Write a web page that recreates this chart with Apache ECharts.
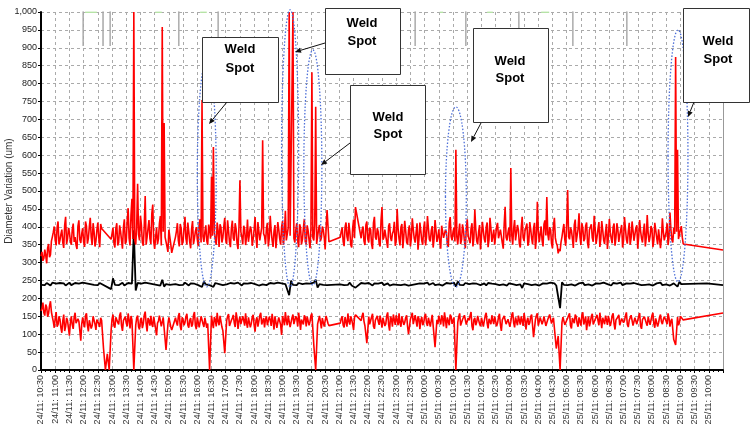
<!DOCTYPE html>
<html><head><meta charset="utf-8">
<script src="https://cdn.jsdelivr.net/npm/echarts@6/dist/echarts.min.js"></script>
<style>html,body{margin:0;padding:0;background:#fff}#c{width:751px;height:429px}</style>
</head><body><div id="c"></div>
<script>
// samples every STEP_MIN minutes from 24/11 10:30; the *Mid arrays hold the readings half a step later
const STEP_MIN = 4;

const upperRed = [
 318,305,336,298,352,322,372,401,348,415,
 362,392,341,428,366,384,350,409,371,338,
 418,355,396,344,402,368,425,349,388,360,
 412,343,395,null,null,null,null,365,398,342,
 410,356,387,339,421,360,452,348,478,1000,
 350,520,362,405,347,486,371,419,352,462,
 338,398,366,430,958,690,372,330,395,327,
 null,372,410,345,395,360,428,351,387,340,
 416,368,399,346,421,754,358,404,350,392,
 540,623,365,412,344,398,370,425,352,389,
 343,417,361,394,338,530,372,403,349,420,
 355,391,366,427,341,408,359,642,374,396,
 345,431,362,388,340,413,367,400,350,445,
 361,1000,372,1000,356,410,343,398,365,422,
 351,389,340,832,362,735,348,405,369,392,
 337,447,358,null,null,null,null,null,371,398,
 346,412,360,387,342,420,455,null,null,368,
 401,349,415,356,392,338,428,364,386,345,
 455,370,397,341,410,360,388,347,450,366,
 399,340,417,357,391,345,424,368,384,336,
 412,361,396,348,430,365,389,342,419,358,
 393,339,408,366,385,344,427,362,398,615,
 351,409,364,390,340,421,369,395,345,448,
 360,386,337,414,365,399,343,425,358,392,
 346,411,370,387,339,456,362,398,564,350,
 419,367,391,342,428,360,385,347,413,368,
 396,338,470,357,401,345,418,483,362,392,
 340,425,355,326,332,372,408,347,503,365,
 390,341,420,360,438,349,397,366,412,340,
 388,369,431,352,394,344,416,363,385,338,
 422,367,399,347,410,358,391,342,427,365,
 387,350,415,361,396,339,419,368,389,345,
 433,357,402,343,411,370,393,340,424,362,
 386,349,440,364,397,874,615,368,402,352
];
const upperRedMid = [
 330,312,320,341,315,360,385,362,398,351,
 379,356,405,352,397,361,392,358,349,402,
 364,381,358,415,353,399,372,410,345,391,
 370,408,null,null,null,null,null,381,355,395,
 348,404,363,398,352,417,368,433,366,362,
 398,378,431,356,402,350,396,367,437,359,
 371,352,409,348,386,371,345,392,352,null,
 null,388,362,408,349,396,367,412,358,394,
 352,387,365,409,356,373,385,361,406,367,
 375,384,350,389,407,356,401,364,418,357,
 396,368,410,353,399,386,351,394,372,358,
 401,347,392,371,413,362,398,381,352,411,
 369,389,344,405,371,392,350,416,384,362,
 398,375,380,368,391,362,407,351,396,358,
 404,363,397,370,408,352,393,360,401,371,
 395,402,null,null,null,null,null,null,387,359,
 399,373,411,350,396,368,null,null,null,392,
 360,405,366,398,352,411,371,396,353,419,
 364,392,357,402,370,381,414,361,395,348,
 408,372,389,351,404,369,393,356,410,365,
 388,350,415,372,396,359,402,367,390,371,
 357,403,369,392,350,411,373,386,359,372,
 384,352,407,361,396,374,354,410,368,393,
 351,405,372,389,356,412,365,395,374,350,
 401,368,392,355,408,371,384,359,377,396,
 362,405,352,398,370,389,409,358,393,351,
 411,366,390,379,363,407,376,380,399,353,
 402,369,348,338,357,391,364,410,372,398,
 367,405,357,394,372,410,360,403,355,392,
 407,358,396,371,413,366,391,352,408,371,
 385,354,409,370,392,377,405,361,396,353,
 411,369,390,359,404,373,388,356,409,370,
 382,373,394,362,407,351,398,369,386,357,
 410,371,393,356,380,386,366,392,371,null
];
const upperRedTail = [[1440, 335]];

const middleBlack = [
 238,242,237,243,240,236,244,239,241,237,
 243,238,242,236,241,244,237,240,243,238,
 241,236,244,239,242,237,240,243,238,241,
 237,243,240,null,null,null,null,226,256,238,
 242,237,241,244,236,240,243,238,241,390,
 222,243,238,241,236,244,239,242,237,240,
 243,238,241,236,252,233,240,243,238,241,
 null,240,243,237,241,238,244,239,236,242,
 238,241,244,237,240,232,247,239,242,237,
 241,232,243,238,240,244,237,241,239,236,
 243,238,241,237,244,240,236,242,239,241,
 237,243,238,240,244,236,241,239,242,237,
 240,243,238,241,236,244,239,242,237,240,
 243,209,250,238,241,237,243,239,240,236,
 242,238,241,237,244,252,230,240,243,238,
 241,237,240,null,null,null,null,null,239,242,
 237,241,238,244,236,240,230,null,null,243,
 238,241,237,243,240,236,242,239,241,238,
 244,237,240,242,236,241,239,243,238,240,
 237,242,239,244,236,241,238,243,240,237,
 242,239,241,236,244,238,240,243,237,241,
 239,242,236,240,243,238,241,237,244,233,
 247,238,241,237,243,239,240,236,242,238,
 241,244,237,240,242,236,243,239,241,238,
 240,243,237,241,239,244,236,242,238,240,
 243,237,241,239,229,242,238,240,244,237,
 241,239,243,236,240,242,238,241,237,244,
 239,242,236,240,173,245,238,242,237,241,
 239,243,236,240,242,238,244,237,241,239,
 243,236,240,242,238,241,237,244,239,240,
 242,236,243,238,241,239,244,237,240,242,
 238,241,236,243,239,240,244,237,242,238,
 241,239,243,236,240,242,238,244,237,241,
 239,243,236,240,242,238,233,246,240,241
];
const blackTail = [[1406, 242], [1407, 237], [1440, 237]];

const lowerRed = [
 165,188,152,176,158,192,148,118,162,127,
 142,104,155,121,138,96,150,115,160,126,
 136,82,147,119,158,108,141,124,153,112,
 145,120,138,60,0,45,0,110,155,118,
 149,127,161,109,143,131,158,116,140,0,
 125,152,113,146,129,163,108,139,151,120,
 144,97,137,155,118,142,56,128,150,112,
 null,146,124,159,111,140,133,157,118,145,
 127,162,114,148,135,155,120,143,130,0,
 152,117,141,160,125,146,110,47,138,156,
 121,145,132,161,115,149,127,139,158,118,
 143,130,154,107,147,124,160,136,119,150,
 128,141,157,113,146,133,152,98,140,162,
 125,148,117,155,131,144,160,112,139,153,
 122,147,135,158,70,0,128,151,116,143,
 137,156,124,null,null,null,null,null,131,150,
 119,145,158,127,141,112,154,null,null,138,
 160,123,75,149,132,157,115,144,136,152,
 118,147,129,161,110,143,155,126,139,158,
 121,146,133,153,100,142,160,125,137,150,
 114,148,131,157,123,145,138,159,64,140,
 152,127,144,161,117,136,155,129,147,0,
 133,158,120,143,151,126,139,162,111,146,
 134,155,122,148,137,160,116,142,153,128,
 145,131,157,109,140,150,124,147,135,161,
 119,144,152,127,138,159,113,146,132,155,
 92,141,158,125,149,136,153,118,143,160,
 128,147,60,95,0,133,150,121,145,158,
 116,142,155,130,147,124,161,137,111,149,
 134,157,122,145,139,160,117,143,152,126,
 148,135,158,113,141,154,129,146,138,161,
 120,144,156,127,150,133,159,115,142,153,
 124,147,139,160,118,145,132,155,128,149,
 136,158,121,143,85,70,148,132,155,140
];
const lowerRedMid = [
 171,160,183,149,180,162,135,144,121,150,
 118,137,109,146,117,132,127,147,131,143,
 110,128,131,152,125,139,116,150,128,141,
 129,146,null,null,null,null,null,142,124,147,
 133,152,124,138,149,122,140,151,null,null,
 146,121,140,117,153,130,145,124,128,149,
 115,131,152,122,147,null,null,147,121,null,
 null,133,150,122,147,125,149,126,139,121,
 153,124,147,119,150,129,146,118,null,null,
 131,148,122,136,151,120,null,null,150,123,
 139,154,120,144,137,128,150,124,131,147,
 119,148,126,139,121,152,127,145,142,125,
 149,123,137,150,118,147,126,151,125,138,
 152,120,146,128,150,122,139,141,127,146,
 149,125,152,null,null,null,null,134,145,121,
 151,130,null,null,null,null,null,null,144,125,
 148,121,136,150,128,147,null,null,null,151,
 136,null,null,128,148,122,139,151,126,137,
 146,123,152,127,149,121,140,153,125,131,
 150,126,146,122,null,null,128,153,121,144,
 139,125,150,131,146,121,154,null,null,128,
 138,153,122,140,147,125,149,138,null,null,
 149,124,141,153,127,145,152,123,140,125,
 151,129,146,121,152,131,143,128,139,150,
 122,148,126,140,151,128,142,121,154,132,
 147,125,139,150,123,141,137,126,149,null,
 null,152,124,147,128,150,123,141,155,130,
 146,null,null,null,null,148,126,139,152,124,
 145,131,149,121,142,153,127,150,134,122,
 150,127,141,154,125,139,146,128,140,151,
 123,152,129,140,148,125,144,132,151,127,
 139,153,124,146,128,150,122,141,149,131,
 148,126,152,129,144,121,147,135,141,153,
 128,145,137,null,null,null,125,150,146,null
];
const lowerRedTail = [[1440, 159]];

// grey marker trace hanging from the top of the plot
const grayDipMinutes = [89, 131, 146, 291, 374, 790, 897, 1009, 1123, 1237];
const grayDipLevel = 905;
// faint green trace segments along the 1,000 line [startMin, endMin]
const greenTopSegments = [[93,118],[241,255],[336,350],[842,849],[942,954],[1056,1073]];

const xTickLabels = [
 "24/11: 10:30","24/11: 11:00","24/11: 11:30","24/11: 12:00","24/11: 12:30","24/11: 13:00",
 "24/11: 13:30","24/11: 14:00","24/11: 14:30","24/11: 15:00","24/11: 15:30","24/11: 16:00",
 "24/11: 16:30","24/11: 17:00","24/11: 17:30","24/11: 18:00","24/11: 18:30","24/11: 19:00",
 "24/11: 19:30","24/11: 20:00","24/11: 20:30","24/11: 21:00","24/11: 21:30","24/11: 22:00",
 "24/11: 22:30","24/11: 23:00","24/11: 23:30","25/11: 00:00","25/11: 00:30","25/11: 01:00",
 "25/11: 01:30","25/11: 02:00","25/11: 02:30","25/11: 03:00","25/11: 03:30","25/11: 04:00",
 "25/11: 04:30","25/11: 05:00","25/11: 05:30","25/11: 06:00","25/11: 06:30","25/11: 07:00",
 "25/11: 07:30","25/11: 08:00","25/11: 08:30","25/11: 09:00","25/11: 09:30","25/11: 10:00"
];

// weld spots highlighted by dotted ellipses: [centreMin, topValue, bottomValue, halfWidthMin]
const weldSpotEllipses = [[350,866,232,20],[526,1006,232,18],[574,894,237,19],[876,735,232,22],[1345,950,246,21]];

function toPairs(arr, mid, tail) {
  const out = [];
  arr.forEach((v, i) => {
    if (v !== null) out.push([i * STEP_MIN, v]);
    if (mid && mid[i] !== null && mid[i] !== undefined) out.push([i * STEP_MIN + STEP_MIN / 2, mid[i]]);
  });
  return out.concat(tail);
}
const grayData = [];
grayDipMinutes.forEach(m => { grayData.push([m, 1100], [m, grayDipLevel], [m, 1100]); });
const greenData = [];
greenTopSegments.forEach(s => { greenData.push([s[0], 999], [s[1], 999], [s[1], '-']); });

const chart = echarts.init(document.getElementById('c'), null, {renderer: 'canvas'});
const FONT = 'Liberation Sans, Arial, sans-serif';
chart.setOption({
  animation: false,
  backgroundColor: '#fff',
  grid: {left: 41, right: 28, top: 12, bottom: 59, outerBoundsMode: 'none', containLabel: false},
  xAxis: {
    type: 'value', min: 0, max: 1440, interval: 30,
    axisLine: {show: true, lineStyle: {color: '#000', width: 2}},
    axisTick: {show: true, length: 3, lineStyle: {color: '#000'}},
    minorTick: {show: true, splitNumber: 3, length: 2, lineStyle: {color: '#000'}},
    axisLabel: {
      rotate: 90, fontSize: 9, color: '#333', fontFamily: FONT, margin: 5,
      showMaxLabel: false,
      formatter: v => xTickLabels[Math.round(v / 30)] || ''
    },
    splitLine: {show: true, lineStyle: {color: '#aaa', type: [3, 3], width: 1}}
  },
  yAxis: [{
    type: 'value', min: 0, max: 1000, interval: 50,
    name: 'Diameter Variation (um)', nameLocation: 'middle', nameGap: 27, nameMoveOverlap: false,
    nameTextStyle: {fontSize: 10, color: '#333', fontFamily: FONT},
    axisLine: {show: true, lineStyle: {color: '#000', width: 2}},
    axisTick: {show: true, length: 3, lineStyle: {color: '#000'}},
    axisLabel: {fontSize: 9, color: '#222', fontFamily: FONT, margin: 4,
      formatter: v => v.toLocaleString('en-US')},
    splitLine: {show: true, lineStyle: {color: '#aaa', type: [3, 3], width: 1}}
  }, {
    type: 'value', min: 0, max: 1000, position: 'right',
    axisLine: {show: true, lineStyle: {color: '#999', width: 1}},
    axisTick: {show: false}, axisLabel: {show: false}, splitLine: {show: false}
  }],
  series: [
    {type: 'line', data: grayData, showSymbol: false, symbol: 'none', clip: true,
     lineStyle: {color: '#a8a8a8', width: 1}},
    {type: 'line', data: greenData, showSymbol: false, symbol: 'none', clip: true,
     lineStyle: {color: '#b6e3a6', width: 1.5}},
    {type: 'line', data: toPairs(middleBlack, null, blackTail), showSymbol: false, symbol: 'none', clip: true,
     lineStyle: {color: '#000', width: 1.8}},
    {type: 'line', data: toPairs(upperRed, upperRedMid, upperRedTail), showSymbol: false, symbol: 'none', clip: true,
     lineStyle: {color: '#ff0000', width: 1.6}},
    {type: 'line', data: toPairs(lowerRed, lowerRedMid, lowerRedTail), showSymbol: false, symbol: 'none', clip: true,
     lineStyle: {color: '#ff0000', width: 1.6}}
  ]
});

// annotation overlays
const boxes = [
  {x: 202, y: 37, w: 76, h: 65, tx: 240, ty1: 49, ty2: 68},
  {x: 325, y: 8, w: 75, h: 66, tx: 362, ty1: 23, ty2: 41},
  {x: 350, y: 85, w: 75, h: 89, tx: 388, ty1: 117, ty2: 134},
  {x: 473, y: 28, w: 75, h: 94, tx: 510, ty1: 61, ty2: 78},
  {x: 683, y: 8, w: 66, h: 94, tx: 718, ty1: 41, ty2: 59}
];
const arrows = [
  [227, 102, 209, 124], [325, 43, 295, 52], [350, 143, 321, 165], [481, 123, 471, 142], [694, 102, 688, 117]
];
const g = [];
weldSpotEllipses.forEach(e => {
  const top = chart.convertToPixel({gridIndex: 0}, [e[0], e[1]]);
  const bot = chart.convertToPixel({gridIndex: 0}, [e[0], e[2]]);
  const side = chart.convertToPixel({gridIndex: 0}, [e[0] + e[3], e[2]]);
  g.push({type: 'ellipse', z: 10,
    shape: {cx: top[0], cy: (top[1] + bot[1]) / 2, rx: side[0] - top[0], ry: (bot[1] - top[1]) / 2},
    style: {fill: null, stroke: '#4d6fd8', lineWidth: 1.3, lineDash: [1.5, 1.8]}});
});
boxes.forEach(b => {
  g.push({type: 'rect', z: 20, shape: {x: b.x + 0.5, y: b.y + 0.5, width: b.w, height: b.h},
    style: {fill: '#fff', stroke: '#333', lineWidth: 1}});
  [['Weld', b.ty1], ['Spot', b.ty2]].forEach(t => {
    g.push({type: 'text', z: 21, style: {text: t[0], x: b.tx, y: t[1], align: 'center', verticalAlign: 'middle',
      font: 'bold 13px ' + FONT, fill: '#000'}});
  });
});
arrows.forEach(a => {
  const [x1, y1, x2, y2] = a;
  const ang = Math.atan2(y2 - y1, x2 - x1);
  const L = 6, W = 2.6;
  const bx = x2 - L * Math.cos(ang), by = y2 - L * Math.sin(ang);
  g.push({type: 'line', z: 22, shape: {x1, y1, x2: bx, y2: by}, style: {stroke: '#111', lineWidth: 1}});
  g.push({type: 'polygon', z: 22, shape: {points: [[x2, y2],
    [bx + W * Math.sin(ang), by - W * Math.cos(ang)], [bx - W * Math.sin(ang), by + W * Math.cos(ang)]]},
    style: {fill: '#111'}});
});
chart.setOption({graphic: g});
</script>
</body></html>
